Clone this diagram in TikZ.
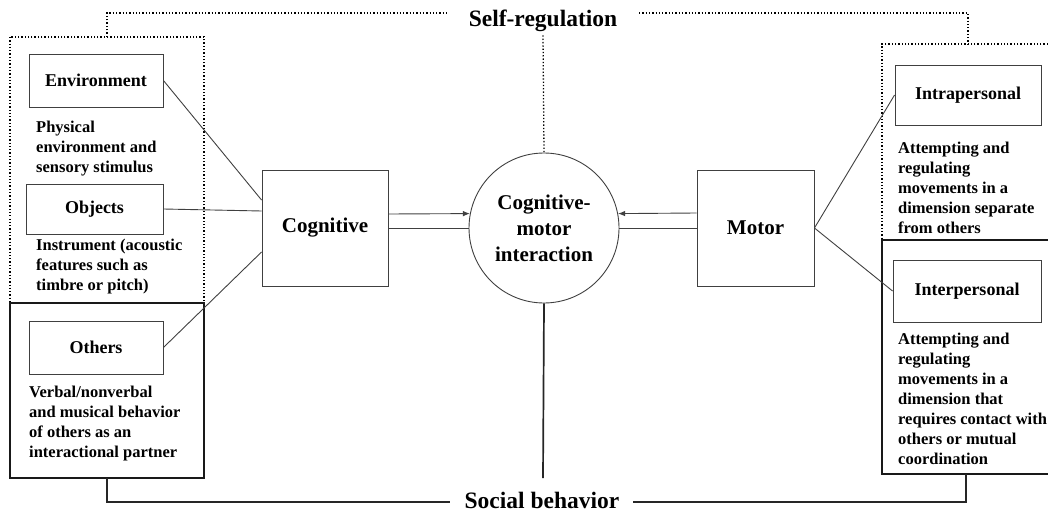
\documentclass[tikz,border=0pt]{standalone}
\usepackage{fontspec}
\setmainfont{Liberation Serif}
\usepackage{tikz}
\usetikzlibrary{calc,arrows.meta}

\begin{document}
\begin{tikzpicture}[x=1pt, y=-1pt,
    box/.style={draw=black!75, line width=0.9pt, inner sep=0pt,
        font=\fontsize{18}{21}\selectfont\bfseries},
    desc/.style={anchor=north west, align=left, inner sep=0pt,
        font=\fontsize{16.5}{20}\selectfont\bfseries},
    link/.style={draw=black!75, line width=0.9pt},
    selfline/.style={line width=1.3pt, dotted},
    socline/.style={line width=1.7pt, draw=black!85},
    grpline/.style={line width=1.7pt, draw=black!90},
    bigtext/.style={font=\fontsize{23.5}{26}\selectfont\bfseries}]

    \useasboundingbox (0,0) rectangle (1048,513);

    % Draw the left group (environment, objects, others)
    \node[box, minimum width=134pt, minimum height=53pt] (env) at (96,80.5) {Environment};
    \node[desc] (envtxt) at (36,120.5) {Physical\\environment and\\sensory stimulus};
    \node[box, minimum width=137pt, minimum height=50pt] (obj) at (94.5,209) {Objects};
    \node[desc] (objtxt) at (36,238.5) {Instrument (acoustic\\features such as\\timbre or pitch)};
    \node[box, minimum width=134pt, minimum height=53pt] (oth) at (96,347.5) {Others};
    \node[desc] (othtxt) at (29,385.5) {Verbal/nonverbal\\and musical behavior\\of others as an\\interactional partner};

    % Dotted and solid frames round the left group
    \draw[selfline] (10,37) rectangle (204,303);
    \draw[grpline] (10,303) rectangle (204,478);

    % Draw the right group (intrapersonal, interpersonal)
    \node[box, minimum width=146pt, minimum height=60pt] (intra) at (968,95) {Intrapersonal};
    \node[desc] (intratxt) at (898,141.5) {Attempting and\\regulating\\movements in a\\dimension separate\\from others};
    \node[box, minimum width=148pt, minimum height=62pt] (inter) at (967,291) {Interpersonal};
    \node[desc] (intertxt) at (898,332.5) {Attempting and\\regulating\\movements in a\\dimension that\\requires contact with\\others or mutual\\coordination};

    % Frames round the right group (open at the page edge)
    \draw[selfline] (1048,44) -| (882,240);
    \draw[grpline] (1048,240) -| (882,474) -- (1048,474);

    % Cognitive, motor and the interaction circle
    \node[box, minimum width=126pt, minimum height=116pt,
        font=\fontsize{21}{26}\selectfont\bfseries] (cog) at (325,228) {Cognitive};
    \node[box, minimum width=117pt, minimum height=116pt,
        font=\fontsize{21}{26}\selectfont\bfseries] (mot) at (755.5,228) {Motor};
    \node[draw=black!75, line width=0.9pt, circle, minimum size=150pt, inner sep=0pt,
        align=center, font=\fontsize{21}{26}\selectfont\bfseries] (cmi) at (544,228)
        {Cognitive-\\motor\\interaction};

    % Links into cognitive and motor
    \draw[link] (env.east) -- ([yshift=28pt]cog.west);
    \draw[link] (obj.east) -- ([yshift=17pt]cog.west);
    \draw[link] (oth.east) -- ([yshift=-24pt]cog.west);
    \draw[link] (mot.east) -- (intra.west);
    \draw[link] (mot.east) -- (inter.west);

    % Arrows and lines into the circle
    \draw[link, -{Latex[length=7pt,width=5.5pt]}] ([yshift=14pt]cog.east) -- (cmi.169);
    \draw[link] (cog.east) -- (cmi.west);
    \draw[link, -{Latex[length=7pt,width=5.5pt]}] ([yshift=15pt]mot.west) -- (cmi.11.5);
    \draw[link] (mot.west) -- (cmi.east);

    % Self-regulation on top
    \node[bigtext] (selfreg) at (543,21) {Self-regulation};
    \coordinate (lgtop) at (107,37);
    \coordinate (rgtop) at (968,44);
    \coordinate (srl) at (447,13);
    \coordinate (srr) at (639,13);
    \draw[selfline] (lgtop) |- (srl);
    \draw[selfline] (srr) -| (rgtop);
    \draw[selfline] (selfreg.south) -- (cmi.north);

    % Social behavior at the bottom
    \node[bigtext] (socbeh) at (542,500) {Social behavior};
    \coordinate (lgbot) at (107,478);
    \coordinate (rgbot) at (966,474);
    \coordinate (sbl) at (450,502);
    \coordinate (sbr) at (633,502);
    \coordinate (socstem) at (543,478);
    \draw[socline] (lgbot) |- (sbl);
    \draw[socline] (sbr) -| (rgbot);
    \draw[socline] (cmi.south) -- (socstem);
\end{tikzpicture}
\end{document}
